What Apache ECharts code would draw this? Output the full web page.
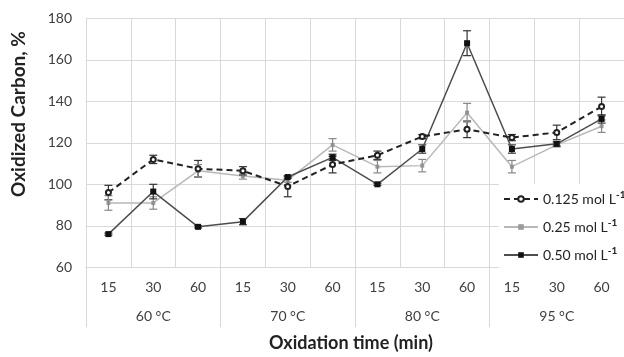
<!DOCTYPE html>
<html>
<head>
<meta charset="utf-8">
<script src="https://cdn.jsdelivr.net/npm/echarts@6/dist/echarts.min.js"></script>
<style>
  html, body { margin: 0; padding: 0; background: #fff; }
  #chart { width: 624px; height: 357px; }
</style>
</head>
<body>
<div id="chart"></div>
<script>
// oxidation times (inner axis) and temperatures (outer axis)
const minutes = ['15', '30', '60', '15', '30', '60', '15', '30', '60', '15', '30', '60'];
const temps = ['60 °C', '70 °C', '80 °C', '95 °C'];
const yTicks = { min: 60, max: 180, step: 20 };

// oxidized carbon, % and error (+/-)
const c125 = [96, 112, 107.5, 106.5, 99, 109.5, 114, 123, 126.5, 122.5, 125, 137.5];
const e125 = [3.5, 2, 4, 2, 5, 4, 2, 1, 4, 1.5, 3.5, 4.5];
const c25 = [91, 91, 106.5, 104, 102, 119, 108.5, 109, 134.5, 108.5, 119, 128];
const e25 = [3.5, 3, 3, 1.5, 1, 3, 3, 3, 4.5, 3, 1, 3];
const c50 = [76, 96.5, 79.5, 82, 103.5, 113, 100, 117, 168, 117, 119.5, 131.5];
const e50 = [0.5, 3.5, 0.5, 1.5, 0.5, 1.5, 0.5, 2, 6, 2, 1, 2];

const names = ['0.125 mol L', '0.25 mol L', '0.50 mol L'];

const font = 'Lato';
const grid = '#d9d9d9';

function errData(vals, errs) {
  return vals.map((v, i) => [i, v - errs[i], v + errs[i]]);
}

function errSeries(vals, errs, color) {
  return {
    type: 'custom',
    data: errData(vals, errs),
    z: 3,
    silent: true,
    renderItem: function (params, api) {
      const lo = api.coord([api.value(0), api.value(1)]);
      const hi = api.coord([api.value(0), api.value(2)]);
      const w = 4;
      const style = { stroke: color, lineWidth: 1.2 };
      return {
        type: 'group',
        children: [
          { type: 'line', shape: { x1: hi[0], y1: hi[1], x2: lo[0], y2: lo[1] }, style: style },
          { type: 'line', shape: { x1: hi[0] - w, y1: hi[1], x2: hi[0] + w, y2: hi[1] }, style: style },
          { type: 'line', shape: { x1: lo[0] - w, y1: lo[1], x2: lo[0] + w, y2: lo[1] }, style: style }
        ]
      };
    }
  };
}

const chart = echarts.init(document.getElementById('chart'));
chart.setOption({
  animation: false,
  backgroundColor: '#fff',
  textStyle: { fontFamily: font },
  grid: { left: 86, top: 18.3, right: -13, bottom: 89.7 },
  legend: {
    orient: 'vertical',
    left: 499,
    top: 184,
    padding: [6, 40, 6, 4],
    backgroundColor: '#fff',
    itemWidth: 34,
    itemHeight: 7,
    itemGap: 12,
    data: names,
    formatter: function (name) { return '{a|' + name + '}{s|-1}'; },
    textStyle: {
      color: '#222',
      fontFamily: font,
      rich: {
        a: { fontSize: 14, fontFamily: font, color: '#222', lineHeight: 19 },
        s: { fontSize: 10, fontFamily: font, fontWeight: 'bold', color: '#222', padding: [0, 0, 8, 0] }
      }
    }
  },
  xAxis: [
    {
      type: 'category',
      data: minutes,
      boundaryGap: true,
      axisLine: { lineStyle: { color: grid, width: 1 } },
      axisTick: { show: false },
      splitLine: { show: true, interval: 0, lineStyle: { color: grid, width: 1 } },
      axisLabel: { interval: 0, margin: 13, fontSize: 14, color: '#404040', fontFamily: font }
    },
    {
      type: 'category',
      data: temps,
      position: 'bottom',
      boundaryGap: true,
      axisLine: { show: false },
      axisTick: { show: true, interval: 0, length: 60, lineStyle: { color: grid, width: 1 } },
      splitLine: { show: false },
      axisLabel: { interval: 0, margin: 42, fontSize: 14, color: '#404040', fontFamily: font }
    }
  ],
  yAxis: {
    type: 'value',
    min: yTicks.min,
    max: yTicks.max,
    interval: yTicks.step,
    axisLine: { show: false },
    axisTick: { show: false },
    splitLine: { lineStyle: { color: grid, width: 1 } },
    axisLabel: { margin: 14, fontSize: 14, color: '#404040', fontFamily: font }
  },
  graphic: [
    {
      type: 'text',
      x: 19, y: 114,
      rotation: Math.PI / 2,
      style: {
        text: 'Oxidized Carbon, %',
        fontFamily: font, fontSize: 19, fontWeight: 'bold', fill: '#222',
        align: 'center', verticalAlign: 'middle'
      }
    },
    {
      type: 'text',
      x: 351, y: 343,
      style: {
        text: 'Oxidation time (min)',
        fontFamily: font, fontSize: 18, fontWeight: 'bold', fill: '#222',
        align: 'center', verticalAlign: 'middle'
      }
    }
  ],
  series: [
    {
      name: names[0],
      type: 'line',
      data: c125,
      z: 4,
      symbol: 'emptyCircle',
      symbolSize: 5,
      itemStyle: { color: '#222', borderWidth: 1.2 },
      lineStyle: { color: '#222', width: 2, type: [6, 4] }
    },
    {
      name: names[1],
      type: 'line',
      data: c25,
      z: 2,
      symbol: 'rect',
      symbolSize: 4,
      itemStyle: { color: '#9a9a9a' },
      lineStyle: { color: '#b8b8b8', width: 1.5 }
    },
    {
      name: names[2],
      type: 'line',
      data: c50,
      z: 3,
      symbol: 'rect',
      symbolSize: 6,
      itemStyle: { color: '#111' },
      lineStyle: { color: '#4d4d4d', width: 1.5 }
    },
    errSeries(c125, e125, '#333'),
    errSeries(c25, e25, '#888'),
    errSeries(c50, e50, '#333')
  ]
});
</script>
</body>
</html>
